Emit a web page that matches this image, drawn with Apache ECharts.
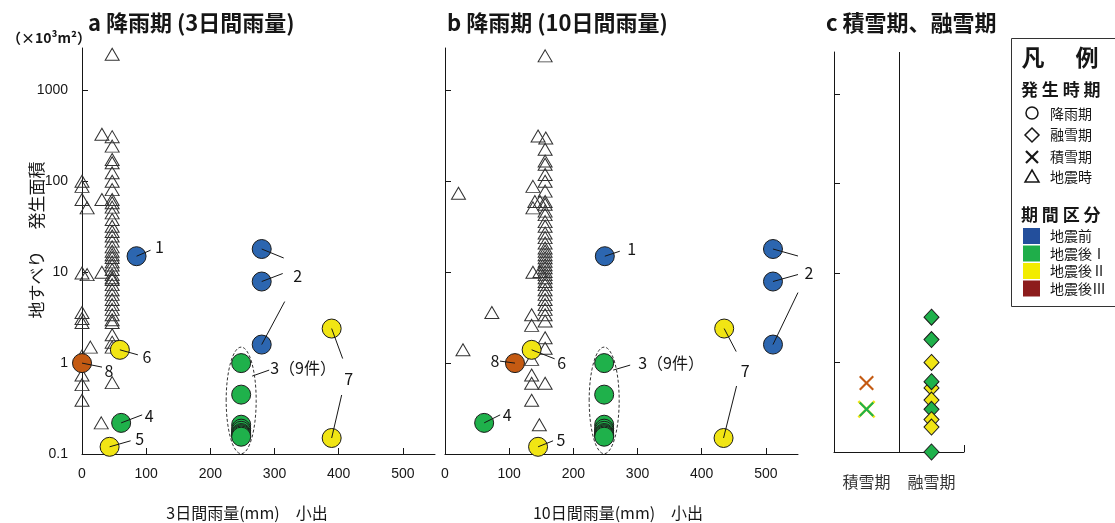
<!DOCTYPE html>
<html>
<head>
<meta charset="utf-8">
<script src="https://cdn.jsdelivr.net/npm/echarts@6/dist/echarts.min.js"></script>
<style>
  html, body { margin: 0; padding: 0; background: #fff; }
  #chart { width: 1115px; height: 523px; }
</style>
</head>
<body>
<div id="chart"></div>
<script>
// ---------------- data ----------------
// Rainfall-triggered landslides (circles), one entry per landslide
const rainIds    = ['1', '2', '2', '2', '3', '3', '3', '3', '3', '3', '3', '3', '3', '4', '5', '6', '7', '7', '8'];
const rainPeriod = ['pre', 'pre', 'pre', 'pre', 'I', 'I', 'I', 'I', 'I', 'I', 'I', 'I', 'I', 'I', 'II', 'II', 'II', 'II', 'III'];
const rain3Day   = [85, 280, 280, 280, 248, 248, 248, 248, 248, 248, 248, 248, 248, 61, 43, 59, 389, 389, 0];
const rain10Day  = [249, 511, 511, 511, 248, 248, 248, 248, 248, 248, 248, 248, 248, 61, 145, 135, 435, 434, 109];
const rainArea   = [15, 18, 7.9, 1.6, 1.0, 0.45, 0.21, 0.19, 0.18, 0.17, 0.165, 0.16, 0.155, 0.22, 0.12, 1.4, 2.4, 0.15, 1.0];

// Earthquake-time landslides (triangles): [rainfall mm, area]
const quake3Day = [
  [0, 100], [0, 88], [0, 63], [0, 9.8], [0, 3.6], [0, 3.1], [0, 2.8], [0, 1.2], [0, 0.74], [0, 0.58], [0, 0.39],
  [8, 51], [8, 9.4], [13, 1.5], [30, 0.22], [31, 330], [31, 63], [31, 10],
  [47, 2500], [47, 310], [47, 244], [47, 174], [47, 160], [47, 124], [47, 100], [47, 81], [47, 63], [47, 58],
  [47, 52], [47, 45], [47, 38], [47, 32], [47, 28], [47, 25], [47, 22], [47, 19], [47, 17], [47, 15.6],
  [47, 14.5], [47, 13], [47, 12], [47, 10.7], [47, 9.4], [47, 8.7], [47, 8.3], [47, 7.3], [47, 6.4], [47, 5.7],
  [47, 5.0], [47, 4.4], [47, 3.9], [47, 3.4], [47, 3.0], [47, 2.8], [47, 2.05], [47, 1.7], [47, 1.5], [47, 0.61]
];
const quake10Day = [
  [21, 74], [73, 3.6], [28, 1.4],
  [156, 2400], [157, 300], [156, 225], [156, 167], [156, 154], [156, 119], [156, 100], [156, 78], [156, 60],
  [156, 56], [156, 47], [156, 43], [156, 36], [156, 32], [156, 27], [156, 24], [156, 21], [156, 18.5], [156, 17],
  [156, 15.6], [156, 14.4], [156, 13.2], [156, 12.1], [156, 11.2], [156, 10.2], [156, 9.4], [156, 8.7], [156, 7.9],
  [156, 7.3], [156, 6.4], [156, 5.7], [156, 5.0], [156, 4.4], [156, 3.9], [156, 3.4], [156, 2.9], [156, 1.9],
  [156, 1.46], [156, 0.60],
  [145, 315], [137, 88], [137, 51], [137, 10], [140, 60], [148, 60], [148, 10.2],
  [135, 3.4], [135, 2.6], [135, 1.1], [135, 0.74], [135, 0.60], [135, 0.39], [147, 0.21]
];

// Snow-cover and snow-melt landslides
const snowPeriod = ['III', 'II', 'I'];
const snowArea   = [0.59, 0.30, 0.30];
const meltPeriod = ['I', 'I', 'II', 'II', 'I', 'II', 'I', 'II', 'II', 'I'];
const meltArea   = [3.2, 1.8, 1.0, 0.52, 0.61, 0.38, 0.30, 0.23, 0.19, 0.10];

// Axis labels
const areaTicks  = [0.1, 1, 10, 100, 1000];
const rainTicks  = [0, 100, 200, 300, 400, 500];
const seasonNames = ['積雪期', '融雪期'];
const periodNames = { pre: '地震前', I: '地震後Ⅰ', II: '地震後Ⅱ', III: '地震後Ⅲ' };

// ---------------- styles ----------------
const FONT = '"Noto Sans CJK JP", "Noto Sans", sans-serif';
const NUM_FONT = '"Liberation Sans", Arial, sans-serif';
const INK = '#161616';
const markFill = { pre: '#2c66b0', I: '#1fb14b', II: '#f1e514', III: '#c45a12' };
const keyFill  = { pre: '#234f9c', I: '#1fae4a', II: '#f2ec00', III: '#8d1c1c' };
const AREA_MAX = 2930;
const LOG_MIN = -1, LOG_MAX = Math.log10(AREA_MAX);
const lg = Math.log10;
const X_SYMBOL = 'path://M0,1L1,0L5,4L9,0L10,1L6,5L10,9L9,10L5,6L1,10L0,9L4,5Z';

function areaAxis(gridIndex, withLabels) {
  return {
    type: 'value', gridIndex, min: LOG_MIN, max: LOG_MAX,
    axisLine: { show: true, lineStyle: { color: INK, width: 1 } },
    axisTick: { show: true, inside: true, length: 6, customValues: areaTicks.slice(1).map(lg), lineStyle: { color: INK } },
    axisLabel: {
      show: withLabels, customValues: areaTicks.map(lg), margin: 14,
      fontSize: 14, fontFamily: NUM_FONT, color: INK,
      formatter: v => { const n = Math.pow(10, v); return n < 1 ? n.toFixed(1) : String(Math.round(n)); }
    },
    splitLine: { show: false }
  };
}
function rainAxis(gridIndex) {
  return {
    type: 'value', gridIndex, min: 0, max: 550,
    axisLine: { show: true, onZero: false, lineStyle: { color: INK, width: 1 } },
    axisTick: { show: true, inside: true, length: 6, customValues: rainTicks.slice(1), lineStyle: { color: INK } },
    axisLabel: { customValues: rainTicks, margin: 13, fontSize: 14, fontFamily: NUM_FONT, color: INK },
    splitLine: { show: false }
  };
}
function circleSeries(axisIndex, xs) {
  return {
    type: 'scatter', xAxisIndex: axisIndex, yAxisIndex: axisIndex, z: 3,
    symbol: 'circle', symbolSize: 19,
    data: xs.map((x, i) => ({
      value: [x, lg(rainArea[i])],
      itemStyle: { color: markFill[rainPeriod[i]], borderColor: '#1b1b1b', borderWidth: 1, opacity: 1 }
    }))
  };
}
function triangleSeries(axisIndex, pts) {
  return {
    type: 'scatter', xAxisIndex: axisIndex, yAxisIndex: axisIndex, z: 2,
    symbol: 'triangle', symbolSize: [14, 12],
    itemStyle: { color: 'rgba(255,255,255,0)', borderColor: '#333', borderWidth: 1, opacity: 1 },
    data: pts.map(p => [p[0], lg(p[1])])
  };
}

const option = {
  animation: false,
  backgroundColor: '#fff',
  grid: [
    { left: 82, top: 48, width: 353, height: 406 },
    { left: 445, top: 48, width: 353, height: 406 },
    { left: 834, top: 52, width: 130, height: 400 }
  ],
  xAxis: [
    rainAxis(0),
    rainAxis(1),
    {
      type: 'value', gridIndex: 2, min: 0, max: 2, interval: 1,
      axisLine: { show: true, onZero: false, lineStyle: { color: INK, width: 1 } },
      axisTick: { show: true, inside: true, length: 7, lineStyle: { color: INK } },
      axisLabel: {
        customValues: [0.5, 1.5], margin: 22, fontSize: 16, fontFamily: FONT, color: '#333',
        formatter: v => seasonNames[v < 1 ? 0 : 1]
      },
      splitLine: { show: false }
    }
  ],
  yAxis: [areaAxis(0, true), areaAxis(1, false), areaAxis(2, false)],
  series: [
    triangleSeries(0, quake3Day),
    circleSeries(0, rain3Day),
    triangleSeries(1, quake10Day),
    circleSeries(1, rain10Day),
    {
      type: 'scatter', xAxisIndex: 2, yAxisIndex: 2, z: 3,
      symbol: X_SYMBOL, symbolSize: 16,
      data: snowArea.map((a, i) => ({
        value: [0.5, lg(a)],
        symbolSize: snowPeriod[i] === 'II' ? 18 : 15,
        itemStyle: { color: markFill[snowPeriod[i]], opacity: 1 }
      }))
    },
    {
      type: 'scatter', xAxisIndex: 2, yAxisIndex: 2, z: 3,
      symbol: 'diamond', symbolSize: [15, 16],
      data: meltArea.map((a, i) => ({
        value: [1.5, lg(a)],
        itemStyle: { color: markFill[meltPeriod[i]], borderColor: '#1b1b1b', borderWidth: 1, opacity: 1 }
      })),
      markLine: {
        silent: true, symbol: 'none', label: { show: false },
        lineStyle: { color: INK, width: 1, type: 'solid' },
        data: [{ xAxis: 1 }]
      }
    }
  ]
};

const chart = echarts.init(document.getElementById('chart'));
chart.setOption(option);

// ---------------- numbered callouts ----------------
// Pixel offsets of each leader end and number, relative to the first point referenced
const calloutsA = [
  { text: '1', pts: [0], to: [[14, -6]], label: [23, -9] },
  { text: '2', pts: [1, 2, 3], to: [[22, 9], [21, -8], [23, -43]], label: [36, 27] },
  { text: '3（9件）', pts: [4], from: [11, 13], to: [[28, 7]], label: [29, 5], left: true },
  { text: '4', pts: [13], to: [[21, -8]], label: [28, -7] },
  { text: '5', pts: [14], to: [[21, -6]], label: [30, -8] },
  { text: '6', pts: [15], to: [[18, 5]], label: [27, 7] },
  { text: '7', pts: [16, 17], to: [[11, 30], [10, -43]], label: [17, 50] },
  { text: '8', pts: [18], to: [[20, 4]], label: [27, 8] }
];
const calloutsB = [
  { text: '1', pts: [0], to: [[15, -5]], label: [27, -7] },
  { text: '2', pts: [1, 2, 3], to: [[25, 7], [25, -7], [25, -52]], label: [36, 24] },
  { text: '3（9件）', pts: [4], from: [9, 7], to: [[26, 2]], label: [34, 0], left: true },
  { text: '4', pts: [13], to: [[16, -8]], label: [23, -8] },
  { text: '5', pts: [14], to: [[15, -6]], label: [23, -7] },
  { text: '6', pts: [15], to: [[23, 9]], label: [30, 13] },
  { text: '7', pts: [16, 17], to: [[12, 23], [13, -52]], label: [21, 42] },
  { text: '8', pts: [18], to: [[-15, -2]], label: [-20, -2] }
];

function px(grid, x, area) {
  return chart.convertToPixel({ gridIndex: grid }, [x, lg(area)]);
}
function buildCallouts(grid, xs, callouts) {
  const out = [];
  callouts.forEach(c => {
    const p = c.pts.map(i => px(grid, xs[i], rainArea[i]));
    c.pts.forEach((i, k) => {
      const start = k === 0 && c.from ? [p[0][0] + c.from[0], p[0][1] + c.from[1]] : p[k];
      out.push({
        type: 'line', z: 10,
        shape: { x1: start[0], y1: start[1], x2: p[k][0] + c.to[k][0], y2: p[k][1] + c.to[k][1] },
        style: { stroke: INK, lineWidth: 1 }
      });
    });
    out.push({
      type: 'text', z: 10, x: p[0][0] + c.label[0], y: p[0][1] + c.label[1],
      style: { text: c.text, font: '16px ' + FONT, fill: INK, align: c.left ? 'left' : 'center', verticalAlign: 'middle' }
    });
  });
  // dashed ring around the nine overlapping landslides of group 3
  const grp = rainIds.map((id, i) => i).filter(i => rainIds[i] === '3');
  const ys = grp.map(i => px(grid, xs[i], rainArea[i])[1]);
  const top = Math.min(...ys) - 16, bottom = Math.max(...ys) + 17;
  const cx = px(grid, xs[grp[0]], 1)[0];
  out.push({
    type: 'ellipse', z: 10,
    shape: { cx, cy: (top + bottom) / 2, rx: 15, ry: (bottom - top) / 2 },
    style: { fill: 'none', stroke: '#333', lineWidth: 1, lineDash: [3, 2] }
  });
  return out;
}

// ---------------- titles, axis names and key ----------------
function txt(x, y, text, font, extra) {
  return Object.assign({ type: 'text', x, y, z: 10, style: Object.assign({ text, font, fill: INK, align: 'left', verticalAlign: 'middle' }, extra || {}) });
}
const titleFont = 'bold 22px ' + FONT;
const frame = [
  txt(88, 23, 'a 降雨期 (3日間雨量)', titleFont),
  txt(447, 23, 'b 降雨期 (10日間雨量)', titleFont),
  txt(826, 23, 'c 積雪期、融雪期', titleFont),
  txt(7, 38, '（×10³m²）', 'bold 14px ' + FONT),
  Object.assign(txt(37, 240, '地すべり　 発生面積', '17px ' + FONT, { align: 'center' }), { rotation: Math.PI / 2 }),
  txt(247, 513, '3日間雨量(mm)　小出', '16px ' + FONT, { align: 'center' }),
  txt(618, 513, '10日間雨量(mm)　小出', '16px ' + FONT, { align: 'center' })
];

const KX = 1032, KT = 1050;
const keyFont = '14px ' + FONT, headFont = 'bold 17px ' + FONT;
const key = [
  { type: 'rect', z: 5, shape: { x: 1011.5, y: 38.5, width: 140, height: 268 }, style: { fill: '#fff', stroke: '#333', lineWidth: 1 } },
  txt(1033, 57, '凡', 'bold 23px ' + FONT, { align: 'center' }),
  txt(1087, 57, '例', 'bold 23px ' + FONT, { align: 'center' }),
  txt(1021, 90, '発 生 時 期', headFont),
  { type: 'circle', z: 10, shape: { cx: KX, cy: 113, r: 6 }, style: { fill: '#fff', stroke: INK, lineWidth: 1.5 } },
  txt(KT, 114, '降雨期', keyFont),
  { type: 'polygon', z: 10, shape: { points: [[KX, 128], [KX + 7, 135], [KX, 142], [KX - 7, 135]] }, style: { fill: '#fff', stroke: INK, lineWidth: 1.5 } },
  txt(KT, 135, '融雪期', keyFont),
  { type: 'line', z: 10, shape: { x1: KX - 6, y1: 151, x2: KX + 6, y2: 163 }, style: { stroke: INK, lineWidth: 2.2 } },
  { type: 'line', z: 10, shape: { x1: KX + 6, y1: 151, x2: KX - 6, y2: 163 }, style: { stroke: INK, lineWidth: 2.2 } },
  txt(KT, 157, '積雪期', keyFont),
  { type: 'polygon', z: 10, shape: { points: [[KX, 170], [KX + 7, 182], [KX - 7, 182]] }, style: { fill: '#fff', stroke: INK, lineWidth: 1.5 } },
  txt(KT, 177, '地震時', keyFont),
  txt(1021, 215, '期 間 区 分', headFont)
];
['pre', 'I', 'II', 'III'].forEach((p, i) => {
  const cy = 236 + i * 17.5;
  key.push({ type: 'rect', z: 10, shape: { x: 1023, y: cy - 8, width: 17, height: 16 }, style: { fill: keyFill[p] } });
  key.push(txt(KT, cy, periodNames[p], keyFont));
});

chart.setOption({
  graphic: [].concat(
    frame, key,
    buildCallouts(0, rain3Day, calloutsA),
    buildCallouts(1, rain10Day, calloutsB)
  )
});
</script>
</body>
</html>
